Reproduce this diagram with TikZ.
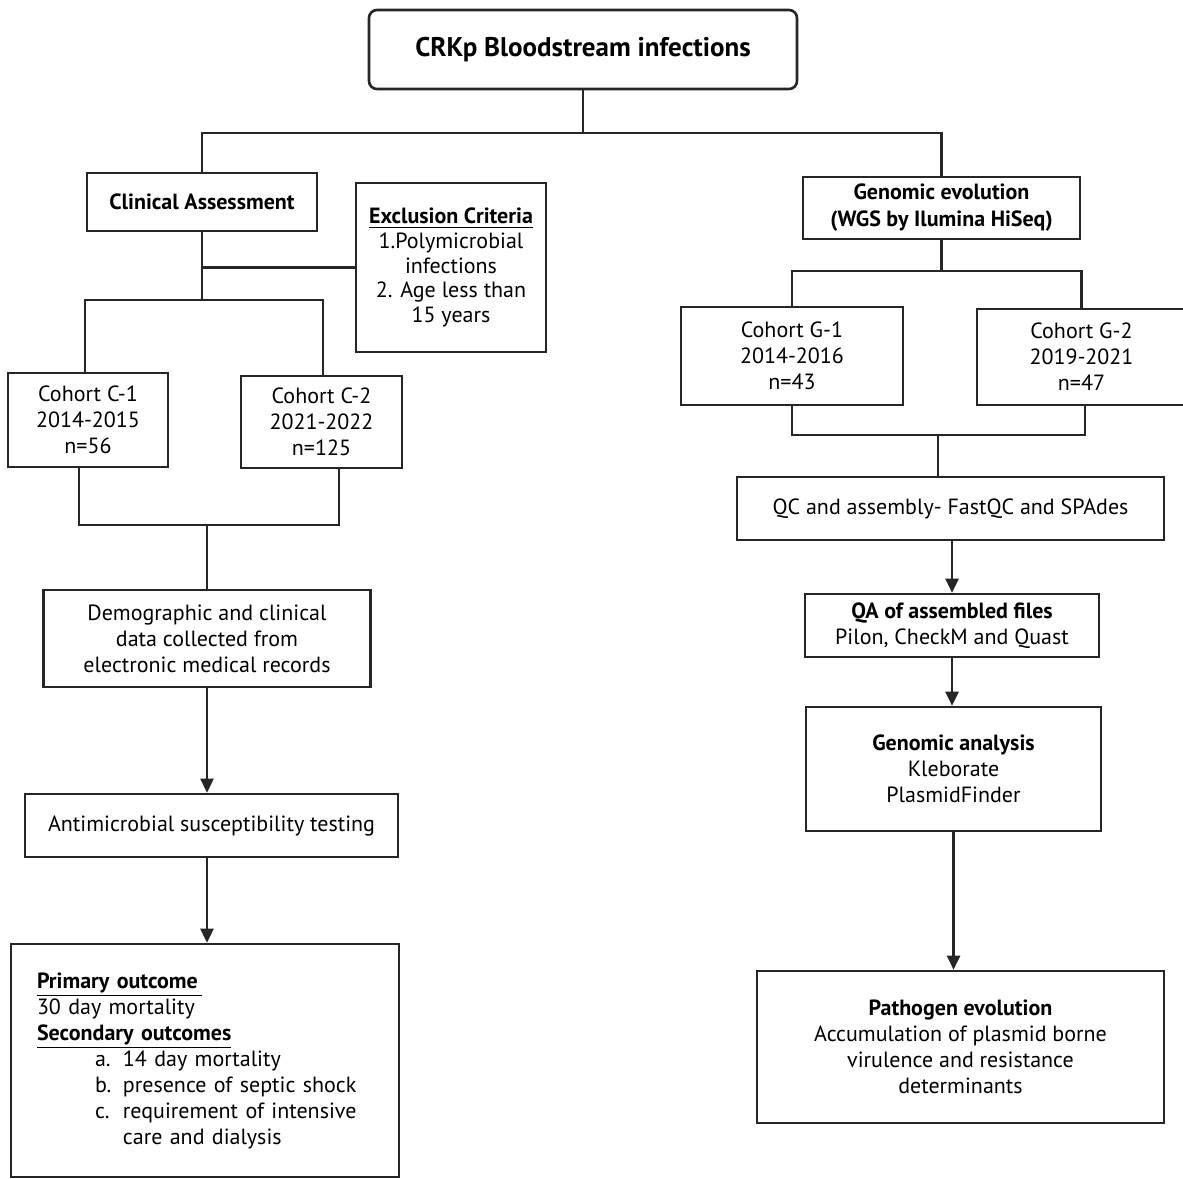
\documentclass[tikz,border=0pt]{standalone}
\usepackage{fontspec}
\setmainfont{PT Sans}
\usetikzlibrary{arrows.meta}

\tikzset{
  box/.style={draw=black!85, line width=1.3pt, align=center, inner sep=2pt, font=\fontsize{11}{13}\selectfont},
  link/.style={draw=black!85, line width=1.3pt},
  arr/.style={link, -{Triangle[width=6.5pt,length=7pt]}},
}

\begin{document}
\begin{tikzpicture}[x=0.5pt,y=-0.5pt]
        \fill[white] (0,0) rectangle (1183,1178);
        \useasboundingbox (0,0) rectangle (1183,1178);

        \node[box, rounded corners=4pt, minimum width=214pt, minimum height=39.5pt, font=\fontsize{13.5}{16}\selectfont\bfseries] at (583,49.5) (title) {CRKp Bloodstream infections};

        \node[box, minimum width=115pt, minimum height=29pt, font=\fontsize{11}{13}\selectfont\bfseries] at (202,202) (clin) {Clinical Assessment};
        \node[box, minimum width=95pt, minimum height=84.5pt, font=\fontsize{11}{12.3}\selectfont] at (451,267.5) (excl) {\textbf{\underline{Exclusion Criteria}}\\1.Polymicrobial\\infections\\2. Age less than\\15 years};
        \node[box, minimum width=80pt, minimum height=47pt] at (88,420) (c1) {Cohort C-1\\2014-2015\\n=56};
        \node[box, minimum width=80.5pt, minimum height=46pt] at (321.5,422) (c2) {Cohort C-2\\2021-2022\\n=125};
        \node[box, minimum width=163.5pt, minimum height=48.5pt] at (207,638.5) (demo) {Demographic and clinical\\data collected from\\electronic medical records};
        \node[box, minimum width=186.5pt, minimum height=31.5pt] at (211.5,825.5) (amr) {Antimicrobial susceptibility testing};
        \node[box, minimum width=194pt, minimum height=116.5pt, text width=168pt, align=left] at (205,1060.5) (outc) {\textbf{\underline{Primary outcome\,}}\\
            30 day mortality\\
            \textbf{\underline{Secondary outcomes}}\\
            \hspace*{29pt}\makebox[14pt][l]{a.}14 day mortality\\
            \hspace*{29pt}\makebox[14pt][l]{b.}presence of septic shock\\
            \hspace*{29pt}\makebox[14pt][l]{c.}requirement of intensive\\
            \hspace*{43pt}care and dialysis};

        \node[box, minimum width=138.5pt, minimum height=31pt, font=\fontsize{11}{13.5}\selectfont\bfseries] at (941.5,208) (gen) {Genomic evolution\\(WGS by Ilumina HiSeq)};
        \node[box, minimum width=111pt, minimum height=49pt] at (792,356) (g1) {Cohort G-1\\2014-2016\\n=43};
        \node[box, minimum width=104.5pt, minimum height=48pt] at (1081.5,357) (g2) {Cohort G-2\\2019-2021\\n=47};
        \node[box, minimum width=213.5pt, minimum height=31.5pt] at (950.5,508.5) (qc) {QC and assembly- FastQC and SPAdes};
        \node[box, minimum width=147pt, minimum height=31.5pt] at (952,625.5) (qa) {\textbf{QA of assembled files}\\Pilon, CheckM and Quast};
        \node[box, minimum width=147.5pt, minimum height=62pt] at (953.5,769) (gan) {\textbf{Genomic analysis}\\Kleborate\\PlasmidFinder};
        \node[box, minimum width=203.5pt, minimum height=76pt] at (960.5,1047) (path) {\textbf{Pathogen evolution}\\Accumulation of plasmid borne\\virulence and resistance\\determinants};

        \coordinate (split) at (583,133);
        \draw[link] (title.south) -- (split);
        \draw[link] (clin.north) |- (split) -| (gen.north);

        \coordinate (csplit) at (202,300);
        \draw[link] (clin.south) -- (csplit);
        \draw[link] (excl.west) -- (excl.west -| csplit);
        \draw[link] (c1.north -| 85,0) |- (csplit) -| (c2.north -| 323,0);
        \coordinate (cmerge) at (207,525);
        \draw[link] (c1.south -| 79,0) |- (cmerge) -| (c2.south -| 339,0);
        \draw[link] (cmerge) -- (demo.north);
        \draw[arr] (demo.south) -- (demo.south |- amr.north);
        \draw[arr] (demo.south |- amr.south) -- (demo.south |- outc.north);

        \coordinate (gsplit) at (941.5,271);
        \draw[link] (gen.south) -- (gsplit);
        \draw[link] (g1.north) |- (gsplit) -| (g2.north);
        \coordinate (gmerge) at (938,435);
        \draw[link] (g1.south) |- (gmerge) -| (g2.south -| 1085,0);
        \draw[link] (gmerge) -- (gmerge |- qc.north);
        \draw[arr] (qa.north |- qc.south) -- (qa.north);
        \draw[arr] (qa.south) -- (qa.south |- gan.north);
        \draw[arr] (gan.south) -- (gan.south |- path.north);

\end{tikzpicture}
\end{document}
